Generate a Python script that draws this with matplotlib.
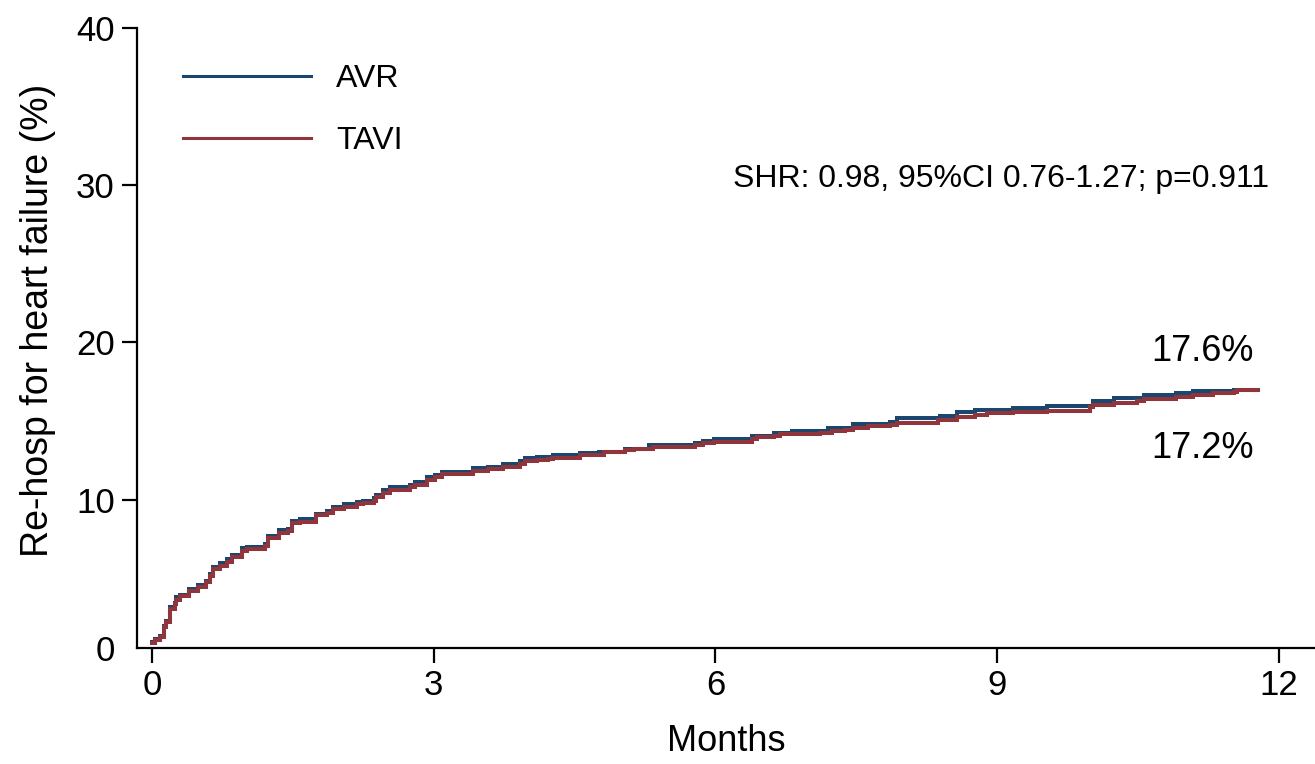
import matplotlib
matplotlib.use("Agg")
import matplotlib.pyplot as plt

# ---- data ----
avr_t = [0.00, 0.03, 0.085, 0.13, 0.15, 0.19, 0.245, 0.26, 0.30, 0.39, 0.49, 0.58, 0.62, 0.65,
         0.72, 0.80, 0.85, 0.96, 1.01, 1.20, 1.24, 1.35, 1.45, 1.49, 1.58, 1.75, 1.86, 1.93,
         2.04, 2.18, 2.25, 2.36, 2.39, 2.46, 2.53, 2.75, 2.80, 2.925, 3.014, 3.085, 3.42, 3.58,
         3.74, 3.92, 3.97, 4.10, 4.27, 4.56, 4.76, 5.04, 5.29, 5.78, 5.87, 5.98, 6.39, 6.62,
         6.82, 7.20, 7.47, 7.86, 7.93, 8.39, 8.57, 8.76, 9.17, 9.53, 10.02, 10.24, 10.56,
         10.91, 11.09, 11.52, 11.78]
avr_v = [0.95, 1.15, 1.35, 2.0, 2.3, 3.15, 3.45, 3.8, 3.95, 4.3, 4.55, 4.85, 5.3, 5.7,
         5.95, 6.2, 6.5, 6.9, 7.0, 7.2, 7.7, 8.05, 8.15, 8.65, 8.75, 9.1, 9.3, 9.55,
         9.7, 9.85, 9.95, 10.1, 10.3, 10.6, 10.8, 10.95, 11.15, 11.42, 11.57, 11.78, 12.0, 12.1,
         12.27, 12.46, 12.63, 12.69, 12.84, 12.95, 13.05, 13.22, 13.48, 13.62, 13.75, 13.86, 14.07, 14.22,
         14.37, 14.54, 14.81, 14.96, 15.17, 15.32, 15.59, 15.70, 15.81, 15.96, 16.27, 16.44, 16.66,
         16.76, 16.93, 16.97, 16.97]

tavi_t = [0.00, 0.03, 0.085, 0.13, 0.15, 0.19, 0.245, 0.26, 0.30, 0.39, 0.49, 0.58, 0.62, 0.65,
          0.72, 0.80, 0.85, 0.96, 1.01, 1.20, 1.24, 1.35, 1.45, 1.49, 1.58, 1.75, 1.86, 1.93,
          2.04, 2.18, 2.25, 2.36, 2.39, 2.46, 2.53, 2.75, 2.80, 2.925, 3.014, 3.085, 3.42, 3.58,
          3.74, 3.92, 3.97, 4.10, 4.22, 4.27, 4.56, 4.81, 5.04, 5.13, 5.34, 5.78, 5.87, 5.98,
          6.39, 6.44, 6.62, 6.69, 7.11, 7.24, 7.38, 7.47, 7.63, 7.86, 7.93, 8.37, 8.57, 8.76,
          8.89, 9.17, 9.53, 9.99, 10.02, 10.24, 10.49, 10.56, 10.91, 11.09, 11.30, 11.52, 11.55, 11.78]
tavi_v = [0.9, 1.05, 1.25, 1.9, 2.2, 3.05, 3.35, 3.65, 3.85, 4.2, 4.45, 4.75, 5.15, 5.6,
          5.8, 6.05, 6.35, 6.75, 6.85, 7.05, 7.55, 7.9, 8.0, 8.5, 8.6, 9.0, 9.15, 9.4,
          9.55, 9.7, 9.8, 9.95, 10.15, 10.45, 10.65, 10.8, 10.95, 11.25, 11.42, 11.63, 11.85, 11.95,
          12.06, 12.27, 12.46, 12.52, 12.59, 12.67, 12.82, 13.01, 13.16, 13.24, 13.37, 13.48, 13.59, 13.69,
          13.86, 13.97, 14.07, 14.16, 14.26, 14.37, 14.43, 14.58, 14.69, 14.75, 14.9, 15.07, 15.24, 15.38,
          15.49, 15.56, 15.66, 15.87, 16.02, 16.13, 16.27, 16.38, 16.51, 16.66, 16.76, 16.87, 16.97, 16.97]

series_labels = ["AVR", "TAVI"]
x_ticks = [0, 3, 6, 9, 12]
y_ticks = [10, 20, 30, 40]
end_labels = ["17.6%", "17.2%"]
stat_text = "SHR: 0.98, 95%CI 0.76-1.27; p=0.911"

# ---- style ----
plt.rcParams["font.family"] = ["Liberation Sans", "DejaVu Sans"]
NAVY = "#1a476f"
MAROON = "#90353b"

fig = plt.figure(figsize=(13.15, 7.64), dpi=100)
ax = fig.add_axes([137 / 1315, 1 - 648 / 764, 1 - 137 / 1315, (648 - 28) / 764])

ylow = 0.57
ax.step(avr_t, avr_v, where="post", color=NAVY, lw=2.9, label=series_labels[0],
        solid_joinstyle="miter")
ax.step(tavi_t, tavi_v, where="post", color=MAROON, lw=2.9, label=series_labels[1],
        solid_joinstyle="miter")

ax.set_xlim(-0.16, 12.385)
ax.set_ylim(ylow, 40)

ax.set_xticks(x_ticks)
ax.set_xticklabels([str(t) for t in x_ticks])
ax.set_yticks([ylow] + y_ticks)
ax.set_yticklabels(["0"] + [str(t) for t in y_ticks])
ax.yaxis.get_major_ticks()[0].tick1line.set_visible(False)

for s in ["top", "right"]:
    ax.spines[s].set_visible(False)
for s in ["left", "bottom"]:
    ax.spines[s].set_linewidth(1.6)

ax.tick_params(axis="both", length=11, width=1.6, labelsize=25, color="black")
ax.tick_params(axis="x", pad=4)
ax.tick_params(axis="y", pad=5)

ax.set_xlabel("Months", fontsize=26, labelpad=16)
ax.set_ylabel("Re-hosp for heart failure (%)", fontsize=27)
ax.yaxis.set_label_coords(-0.0688, 0.529)

leg = ax.legend(loc="upper left", bbox_to_anchor=(0.028, 0.962), frameon=False, fontsize=23,
                handlelength=4.0, handletextpad=0.8, labelspacing=1.0, borderaxespad=0)
for h in leg.get_lines():
    h.set_linewidth(2.2)

ax.text(11.9, 30.4, stat_text, fontsize=23, ha="right", va="center")
ax.text(11.19, 19.4, end_labels[0], fontsize=26, ha="center", va="center")
ax.text(11.19, 13.25, end_labels[1], fontsize=26, ha="center", va="center")

fig.savefig("out.png", dpi=100)
